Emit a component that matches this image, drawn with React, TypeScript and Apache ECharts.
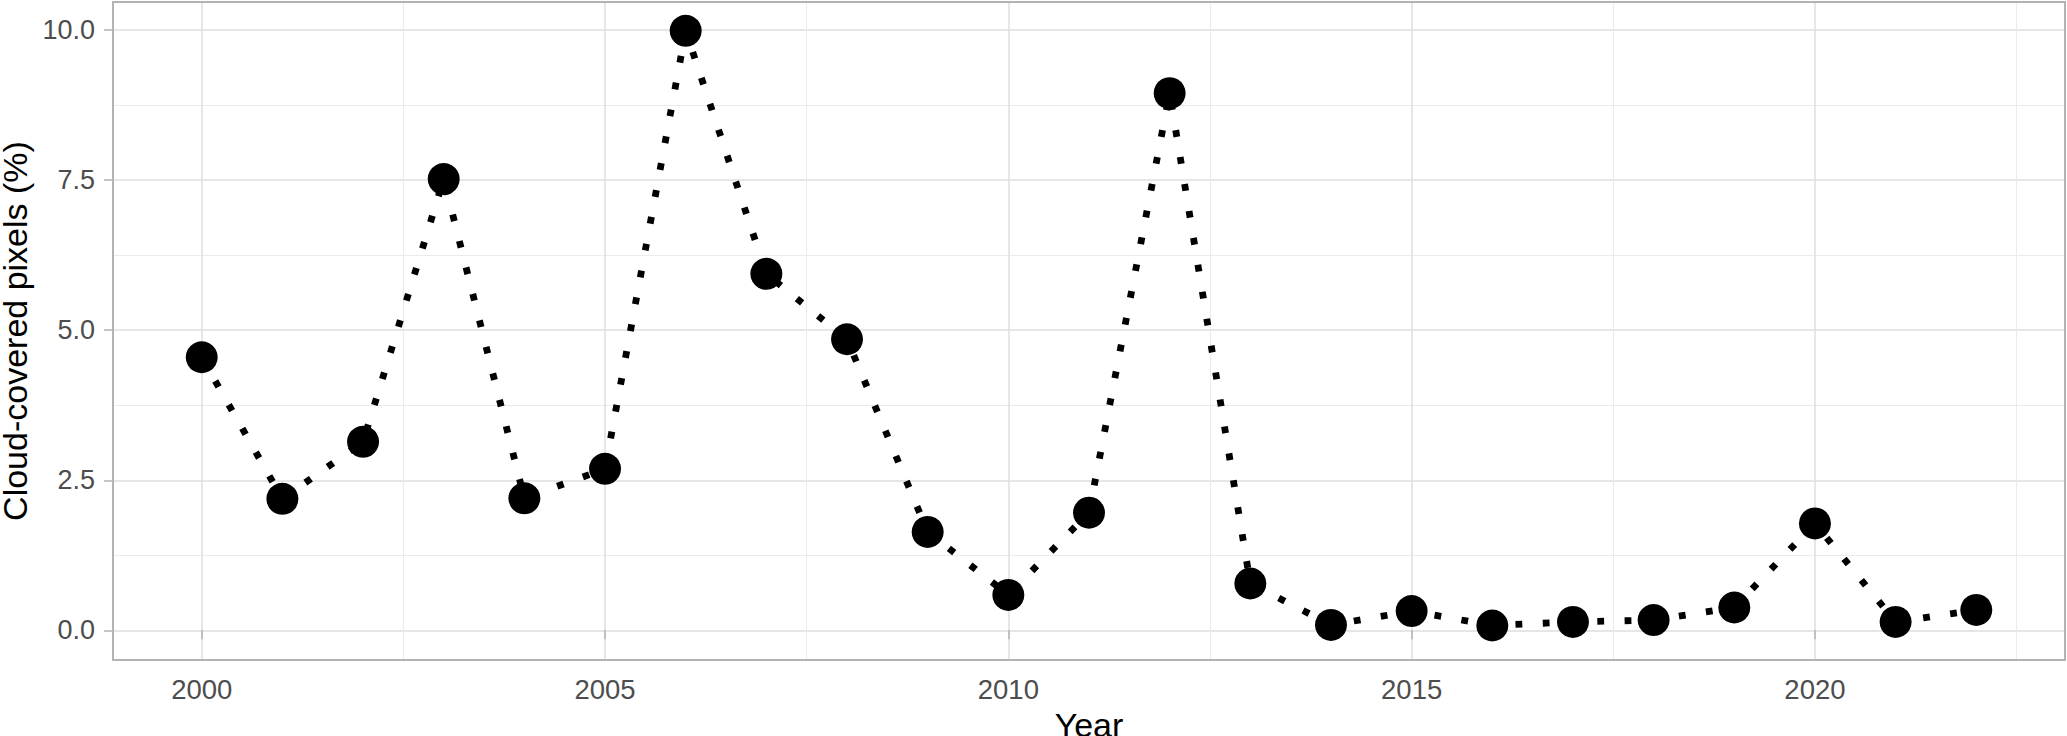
import React, { useEffect, useRef } from "react";
import * as echarts from "echarts";

const years = [2000, 2001, 2002, 2003, 2004, 2005, 2006, 2007, 2008, 2009, 2010, 2011, 2012, 2013, 2014, 2015, 2016, 2017, 2018, 2019, 2020, 2021, 2022];
const cloudPct = [4.55, 2.19, 3.14, 7.52, 2.2, 2.69, 9.99, 5.94, 4.85, 1.64, 0.59, 1.96, 8.95, 0.78, 0.09, 0.32, 0.08, 0.14, 0.17, 0.38, 1.78, 0.14, 0.34];

const xMajorTicks = [2000, 2005, 2010, 2015, 2020];
const xMinorTicks = [2002.5, 2007.5, 2012.5, 2017.5, 2022.5];
const yMajorTicks = [0, 2.5, 5, 7.5, 10];
const yMinorTicks = [1.25, 3.75, 6.25, 8.75];

const xRange = [1998.9, 2023.1];
const yRange = [-0.495, 10.47];

export default function App() {
  const ref = useRef<HTMLDivElement>(null);
  useEffect(() => {
    if (!ref.current) return;
    const chart = echarts.init(ref.current, null, { renderer: "svg" });
    const font = "'Liberation Sans', Arial, Helvetica, sans-serif";
    const gridColor = "#dedede";
    const minorColor = "#ebebeb";
    const borderColor = "#b3b3b3";
    chart.setOption({
      animation: false,
      backgroundColor: "#ffffff",
      grid: {
        left: 113,
        right: 2,
        top: 2,
        bottom: 76,
        outerBoundsMode: "none",
        containLabel: false,
        show: true,
        borderColor: borderColor,
        borderWidth: 2,
        backgroundColor: "transparent",
        z: 3,
      },
      xAxis: [
        {
          type: "value",
          min: xRange[0],
          max: xRange[1],
          name: "Year",
          nameLocation: "middle",
          nameGap: 46,
          nameTextStyle: { fontFamily: font, fontSize: 34, color: "#000000" },
          axisLine: { show: false },
          axisTick: { show: true, length: 9, inside: false, customValues: xMajorTicks, lineStyle: { color: borderColor, width: 1.5 } },
          axisLabel: {
            customValues: xMajorTicks,
            margin: 15.5,
            fontFamily: font,
            fontSize: 27.5,
            color: "#4d4d4d",
            formatter: (v: number) => String(v),
          },
          splitLine: { show: true, lineStyle: { color: gridColor, width: 1.5 } },
        },
        {
          type: "value",
          min: xRange[0],
          max: xRange[1],
          position: "top",
          axisLine: { show: false },
          axisTick: { show: false, customValues: xMinorTicks },
          axisLabel: { show: false, customValues: xMinorTicks },
          splitLine: { show: true, lineStyle: { color: minorColor, width: 1 } },
        },
      ],
      yAxis: [
        {
          type: "value",
          min: yRange[0],
          max: yRange[1],
          name: "Cloud-covered pixels (%)",
          nameLocation: "middle",
          nameGap: 75,
          nameTextStyle: { fontFamily: font, fontSize: 34, color: "#000000" },
          axisLine: { show: false },
          axisTick: { show: true, length: 9, inside: false, customValues: yMajorTicks, lineStyle: { color: borderColor, width: 1.5 } },
          axisLabel: {
            customValues: yMajorTicks,
            margin: 18,
            fontFamily: font,
            fontSize: 27,
            color: "#4d4d4d",
            formatter: (v: number) => v.toFixed(1),
          },
          splitLine: { show: true, lineStyle: { color: gridColor, width: 1.5 } },
        },
        {
          type: "value",
          min: yRange[0],
          max: yRange[1],
          position: "right",
          axisLine: { show: false },
          axisTick: { show: false, customValues: yMinorTicks },
          axisLabel: { show: false, customValues: yMinorTicks },
          splitLine: { show: true, lineStyle: { color: minorColor, width: 1 } },
        },
      ],
      series: [
        {
          type: "line",
          xAxisIndex: 0,
          yAxisIndex: 0,
          data: years.map((y, i) => [y, cloudPct[i]]),
          symbol: "circle",
          symbolSize: 32,
          itemStyle: { color: "#000000", borderWidth: 0 },
          lineStyle: { color: "#000000", width: 6.8, type: [6.8, 20.5], cap: "butt" },
          z: 5,
        },
      ],
    });
    return () => chart.dispose();
  }, []);
  return (
    <div
      ref={ref}
      style={{ position: "absolute", left: 0, top: 0, width: 2067, height: 736 }}
    />
  );
}
